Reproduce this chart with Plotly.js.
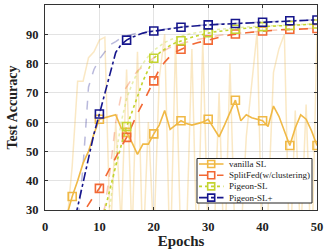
<!DOCTYPE html>
<html>
<head>
<meta charset="utf-8">
<script src="https://cdn.plot.ly/plotly-3.0.1.min.js"></script>
<style>html,body{margin:0;padding:0;background:#fff;}#chart{width:329px;height:249px;}</style>
</head>
<body>
<div id="chart"></div>
<script>
var epochs = [1,2,3,4,5,6,7,8,9,10,11,12,13,14,15,16,17,18,19,20,21,22,23,24,25,26,27,28,29,30,31,32,33,34,35,36,37,38,39,40,41,42,43,44,45,46,47,48,49,50];
var xTicks = [0,10,20,30,40,50];
var yTicks = [30,40,50,60,70,80,90,100];
var seriesNames = ["vanilla SL","SplitFed(w/clustering)","Pigeon-SL","Pigeon-SL+"];

var vanillaSL = [10,15,20,28,34.6,40,46,50,56,61,61.5,62,62.5,58,56.5,53,49,52.5,52.5,56,59,64,57.5,59,60.5,59.5,59,59.5,60,61,58,55,59,63.5,67.5,60.5,62.5,61.5,61,60.5,58.5,65.5,62,57,52,58,62.5,61,57,52];
var vanillaSLRaw = [5,10,18,25,45,74,74,82,84,88,89,20,60,25,78,20,84,15,60,20,75,90,10,88,15,20,85,10,88,20,15,70,10,80,15,20,55,74,91,10,30,77,85,90,10,64,20,66,10,90];
var splitFed = [10,12,15,18,22,26,29,32,34.8,37.4,41,44.5,48,51.5,54.8,59,63,66.5,70.5,74.1,78,80.5,82.5,84,84.9,85.8,86.5,87.1,87.6,88,88.5,89,89.4,89.8,90.1,90.3,90.5,90.7,90.9,91.1,91.2,91.3,91.5,91.6,91.7,91.8,91.85,91.9,91.95,92.0];
var splitFedRaw = [5,6,8,10,12,14,16,18,22,26,31,44,60,69,72,75,77.5,79,80.5,82,83.5,84.5,85.5,86.2,86.8,87.3,87.8,88.2,88.6,89,89.3,89.6,89.9,90.1,90.3,90.5,90.7,90.9,91.0,91.2,91.3,91.4,91.5,91.6,91.7,91.8,91.85,91.9,92.0,92.1];
var pigeonSL = [5,7,9,11,13,15,17,20,23,26.5,30,38,45,52,58.5,63.5,69,74,78,81.8,83.6,85,86.2,87.1,87.8,88.4,89,89.5,90,90.5,90.8,91,91.3,91.5,91.7,91.9,92.1,92.3,92.5,92.6,92.7,92.8,92.9,93.0,93.0,93.1,93.2,93.3,93.4,93.5];
var pigeonSLRaw = [3,5,7,9,11,13,15,17,19,22,26,32,48,60,68,73,77,80,82.5,84.5,86,87.2,88.1,88.8,89.4,89.9,90.3,90.7,91,91.3,91.5,91.7,91.9,92.1,92.2,92.4,92.5,92.6,92.7,92.8,92.9,93,93.1,93.2,93.2,93.3,93.4,93.5,93.5,93.6];
var pigeonSLPlus = [5,10,15,18,23,31,39.5,48,56,62.8,69.5,76.7,83.8,86.5,88,89,89.8,90.4,90.8,91.1,91.4,91.7,91.9,92.2,92.4,92.6,92.8,92.9,93.1,93.2,93.3,93.4,93.5,93.6,93.7,93.8,93.9,93.95,94.0,94.1,94.2,94.3,94.4,94.5,94.6,94.7,94.75,94.8,94.85,94.9];
var pigeonSLPlusRaw = [5,8,12,16,20,25,45,72,78,81.5,84,86.5,87.5,88.8,89.5,90,90.4,90.7,91,91.2,91.5,91.8,92,92.3,92.5,92.7,92.9,93,93.2,93.3,93.4,93.5,93.6,93.7,93.8,93.9,94,94.05,94.1,94.2,94.3,94.4,94.5,94.6,94.7,94.75,94.8,94.85,94.9,95];

var colors = ["rgb(240,185,70)","rgb(242,104,52)","rgb(196,212,48)","rgb(22,22,140)"];
var fadeColors = ["rgba(240,185,70,0.32)","rgba(242,104,52,0.35)","rgba(196,212,48,0.4)","rgba(22,22,140,0.3)"];
var dashes = ["solid","dash","dot","dashdot"];
var fadeDashes = ["solid","dash","dot","dash"];
var solidData = [vanillaSL, splitFed, pigeonSL, pigeonSLPlus];
var rawData = [vanillaSLRaw, splitFedRaw, pigeonSLRaw, pigeonSLPlusRaw];

function every5(arr){
  var xs=[], ys=[];
  for (var i=0;i<epochs.length;i++){ if (epochs[i]%5===0){ xs.push(epochs[i]); ys.push(arr[i]); } }
  return {x:xs,y:ys};
}

var traces = [];
for (var k=0;k<4;k++){
  traces.push({x:epochs,y:rawData[k],mode:"lines",showlegend:false,hoverinfo:"skip",
    line:{color:fadeColors[k],width:1.5,dash:fadeDashes[k]}});
}
for (var k=0;k<4;k++){
  traces.push({x:epochs,y:solidData[k],mode:"lines",showlegend:false,
    line:{color:colors[k],width:1.6,dash:dashes[k]}});
  var m = every5(solidData[k]);
  traces.push({x:m.x,y:m.y,mode:"markers",showlegend:false,
    marker:{symbol:"square-open",size:8,color:colors[k],line:{width:1.6,color:colors[k]}}});
}

// compact legend drawn with shapes + annotations (pixel -> paper coords)
var L = 45, R = 317, T = 5, B = 210;
function px(x){ return (x - L) / (R - L); }
function py(y){ return (B - y) / (B - T); }
var shapes = [];
var annotations = [];
shapes.push({type:"rect",xref:"paper",yref:"paper",x0:px(197),x1:px(312),y0:py(203),y1:py(158.5),
  fillcolor:"#fff",line:{color:"#222",width:1},layer:"above"});
for (var k=0;k<4;k++){
  var yy = 164 + k*11.2;
  shapes.push({type:"line",xref:"paper",yref:"paper",x0:px(199),x1:px(223.5),y0:py(yy),y1:py(yy),
    line:{color:colors[k],width:1.6,dash:dashes[k]},layer:"above"});
  shapes.push({type:"rect",xref:"paper",yref:"paper",x0:px(207.7),x1:px(214.7),y0:py(yy+3.5),y1:py(yy-3.5),
    fillcolor:"rgba(255,255,255,0)",line:{color:colors[k],width:1.6},layer:"above"});
  annotations.push({xref:"paper",yref:"paper",x:px(226.5),y:py(yy),xanchor:"left",yanchor:"middle",
    text:seriesNames[k],showarrow:false,font:{family:"Liberation Serif, serif",size:9,color:"#222"}});
}

var serif = "Liberation Serif, DejaVu Serif, serif";
var layout = {
  width:329,height:249,
  margin:{l:45,r:12,t:5,b:39},
  paper_bgcolor:"#fff",plot_bgcolor:"#fff",
  font:{family:serif,color:"#222"},
  showlegend:false,
  xaxis:{range:[0,50],tickvals:xTicks,ticktext:xTicks.map(String),
    showgrid:true,gridcolor:"#e3e3e3",gridwidth:1,zeroline:false,
    showline:true,linecolor:"#333",linewidth:1,mirror:"ticks",
    ticks:"inside",ticklen:3,tickcolor:"#333",ticklabelstandoff:5,
    tickfont:{family:serif,size:12.5,weight:"bold",color:"#222"},
    title:{text:"Epochs",font:{family:serif,size:15,weight:"bold",color:"#222"},standoff:3}},
  yaxis:{range:[30,100],tickvals:yTicks,ticktext:yTicks.map(String),
    showgrid:true,gridcolor:"#e3e3e3",gridwidth:1,zeroline:false,
    showline:true,linecolor:"#333",linewidth:1,mirror:"ticks",
    ticks:"inside",ticklen:3,tickcolor:"#333",ticklabelstandoff:3,
    tickfont:{family:serif,size:12.5,weight:"bold",color:"#222"},
    title:{text:"Test Accuracy",font:{family:serif,size:14,weight:"bold",color:"#222"},standoff:5}},
  shapes:shapes,
  annotations:annotations
};
Plotly.newPlot("chart",traces,layout,{staticPlot:true,displayModeBar:false});
</script>
</body>
</html>
